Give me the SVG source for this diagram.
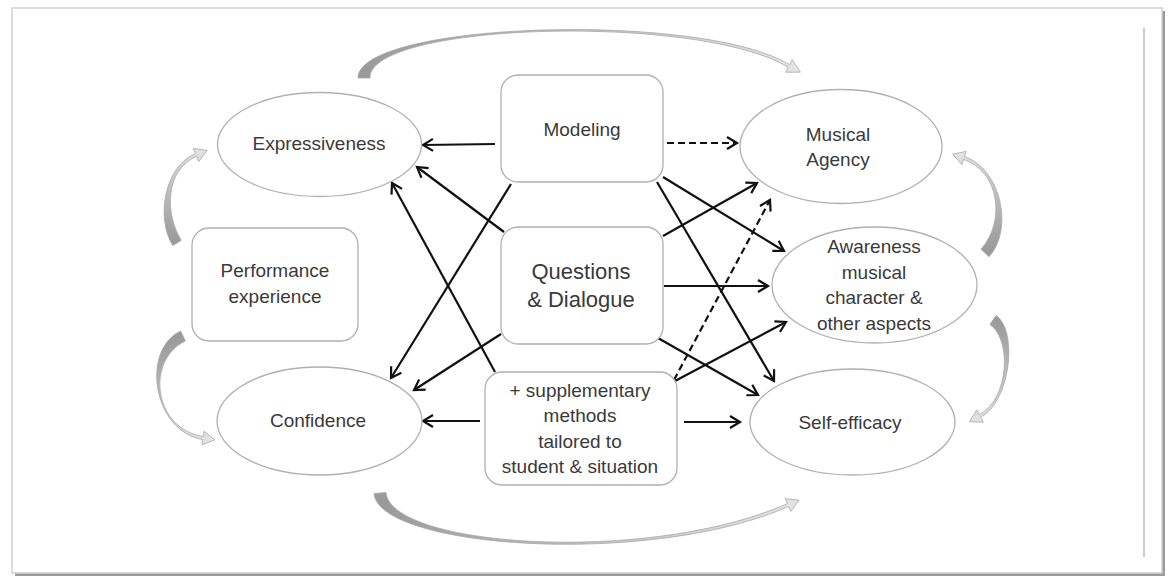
<svg xmlns="http://www.w3.org/2000/svg" width="1170" height="577" viewBox="0 0 1170 577">
<defs>
<style>
.node{fill:#fff;stroke:#b0b0b0;stroke-width:1.3}
.lbl{font-family:"Liberation Sans",Arial,sans-serif;font-size:19px;fill:#3a3a3a;text-anchor:middle}
.big{font-size:22px}
.conn{stroke:#111;stroke-width:2.2;fill:none;marker-end:url(#ah)}
.dash{stroke-dasharray:7 4}
.cv{stroke:#a8a8a8;stroke-width:0.8}
</style>
<marker id="ah" markerUnits="userSpaceOnUse" markerWidth="16" markerHeight="16" viewBox="0 0 16 16" refX="13" refY="8" orient="auto">
<path d="M3,2 L13,8 L3,14" fill="none" stroke="#111" stroke-width="2.2" stroke-linejoin="miter"/>
</marker>
<linearGradient id="gTop" gradientUnits="userSpaceOnUse" x1="364" y1="78" x2="800" y2="72"><stop offset="0" stop-color="#9a9a9a"/><stop offset="1" stop-color="#e4e4e4"/></linearGradient>
<linearGradient id="gLT" gradientUnits="userSpaceOnUse" x1="177" y1="243" x2="207" y2="150"><stop offset="0" stop-color="#9a9a9a"/><stop offset="1" stop-color="#e4e4e4"/></linearGradient>
<linearGradient id="gLB" gradientUnits="userSpaceOnUse" x1="183" y1="336" x2="215" y2="440"><stop offset="0" stop-color="#9a9a9a"/><stop offset="1" stop-color="#e4e4e4"/></linearGradient>
<linearGradient id="gRT" gradientUnits="userSpaceOnUse" x1="985" y1="253" x2="952" y2="154"><stop offset="0" stop-color="#9a9a9a"/><stop offset="1" stop-color="#e4e4e4"/></linearGradient>
<linearGradient id="gRB" gradientUnits="userSpaceOnUse" x1="993" y1="320" x2="969" y2="422"><stop offset="0" stop-color="#9a9a9a"/><stop offset="1" stop-color="#e4e4e4"/></linearGradient>
<linearGradient id="gBot" gradientUnits="userSpaceOnUse" x1="380" y1="493" x2="799" y2="500"><stop offset="0" stop-color="#9a9a9a"/><stop offset="1" stop-color="#e4e4e4"/></linearGradient>
</defs>

<g id="frame">
<rect x="0" y="0" width="1170" height="577" fill="#fff"/>
<rect x="15" y="11" width="1150" height="565" fill="#9a9a9a"/>
<rect x="12" y="8" width="1150" height="565" fill="#fff" stroke="#d0d0d0" stroke-width="1.5"/>
<line x1="1144" y1="28" x2="1144" y2="557" stroke="#bdbdbd" stroke-width="1.5"/>
</g>

<g id="cycle">
<path class="cv" fill="url(#gTop)" d="M358,78 C358,22 700.7,10.7 789.7,64.7 L792.3,59.8 L800.4,72.2 L785.7,72.2 L788.3,67.3 C699.3,13.3 370,22 370,78 Z"/>
<path class="cv" fill="url(#gLT)" d="M172.7,245.6 C155.7,217.6 164.4,166.6 195.4,153.6 L193.3,148.5 L207.1,150.4 L198.7,161.5 L196.6,156.4 C165.6,169.4 164.3,212.4 181.3,240.4 Z"/>
<path class="cv" fill="url(#gLB)" d="M180.6,331 C140.6,350 152.8,431.5 202.8,439.5 L201.9,444.9 L214.9,439.9 L204.1,431.1 L203.2,436.5 C153.2,428.5 145.4,360 185.4,341 Z"/>
<path class="cv" fill="url(#gRT)" d="M989.1,256.7 C1014.1,228.7 1000.5,168.6 964.5,156.6 L966.2,151.4 L952.6,154.2 L961.8,164.6 L963.5,159.4 C999.5,171.4 1005.9,221.3 980.9,249.3 Z"/>
<path class="cv" fill="url(#gRB)" d="M996.1,315.45 C1018.1,330.45 1010.7,401.3 980.7,417.3 L983.3,422.2 L969.4,421.65 L976.7,409.8 L979.3,414.7 C1009.3,398.7 1011.9,339.55 989.9,324.55 Z"/>
<path class="cv" fill="url(#gBot)" d="M374,493.5 C379,548.5 650.6,567.4 788.6,506.4 L790.8,511.4 L799,500.2 L785.2,498.6 L787.4,503.6 C649.4,564.6 391,547.5 386,492.5 Z"/>
</g>

<g id="connectors">
<line class="conn" x1="495" y1="144" x2="423" y2="145"/>
<line class="conn" x1="504" y1="232" x2="417" y2="167"/>
<line class="conn" x1="495" y1="372" x2="392" y2="183"/>
<line class="conn" x1="511" y1="184" x2="391" y2="378"/>
<line class="conn" x1="501" y1="334" x2="414" y2="390"/>
<line class="conn" x1="480" y1="421" x2="423" y2="421"/>
<line class="conn dash" x1="667" y1="143" x2="737" y2="143"/>
<line class="conn" x1="663" y1="177" x2="784" y2="251"/>
<line class="conn" x1="657" y1="182" x2="774" y2="381"/>
<line class="conn" x1="663" y1="236" x2="757" y2="183"/>
<line class="conn" x1="664" y1="286" x2="768" y2="286"/>
<line class="conn" x1="658" y1="338" x2="758" y2="395"/>
<line class="conn dash" x1="674" y1="380" x2="770" y2="200"/>
<line class="conn" x1="675" y1="381" x2="786" y2="322"/>
<line class="conn" x1="684" y1="422" x2="740" y2="422"/>
</g>

<g id="expressiveness">
<ellipse class="node" cx="319.5" cy="144.5" rx="102" ry="52"/>
<text class="lbl" x="319" y="150">Expressiveness</text>
</g>
<g id="modeling">
<rect class="node" x="501" y="75" width="162" height="107" rx="17"/>
<text class="lbl" x="582" y="136">Modeling</text>
</g>
<g id="musical-agency">
<ellipse class="node" cx="841" cy="146.5" rx="101" ry="57"/>
<text class="lbl" x="838" y="141">Musical</text>
<text class="lbl" x="838" y="166">Agency</text>
</g>
<g id="performance-experience">
<rect class="node" x="192" y="228" width="166" height="113" rx="17"/>
<text class="lbl" x="275" y="277">Performance</text>
<text class="lbl" x="275" y="303">experience</text>
</g>
<g id="questions-dialogue">
<rect class="node" x="501" y="227" width="162" height="117" rx="17"/>
<text class="lbl big" x="581" y="279">Questions</text>
<text class="lbl big" x="581" y="307">&amp; Dialogue</text>
</g>
<g id="awareness">
<ellipse class="node" cx="874.5" cy="285" rx="102.5" ry="58"/>
<text class="lbl" x="874" y="253">Awareness</text>
<text class="lbl" x="874" y="278.5">musical</text>
<text class="lbl" x="874" y="304">character &amp;</text>
<text class="lbl" x="874" y="329.5">other aspects</text>
</g>
<g id="confidence">
<ellipse class="node" cx="319.5" cy="421" rx="102.5" ry="54"/>
<text class="lbl" x="318" y="427">Confidence</text>
</g>
<g id="supplementary">
<rect class="node" x="485" y="372" width="192" height="113" rx="17"/>
<text class="lbl" x="580" y="397">+ supplementary</text>
<text class="lbl" x="580" y="422">methods</text>
<text class="lbl" x="580" y="448">tailored to</text>
<text class="lbl" x="580" y="473">student &amp; situation</text>
</g>
<g id="self-efficacy">
<ellipse class="node" cx="852.5" cy="422" rx="102.5" ry="53"/>
<text class="lbl" x="850" y="429">Self-efficacy</text>
</g>
</svg>
